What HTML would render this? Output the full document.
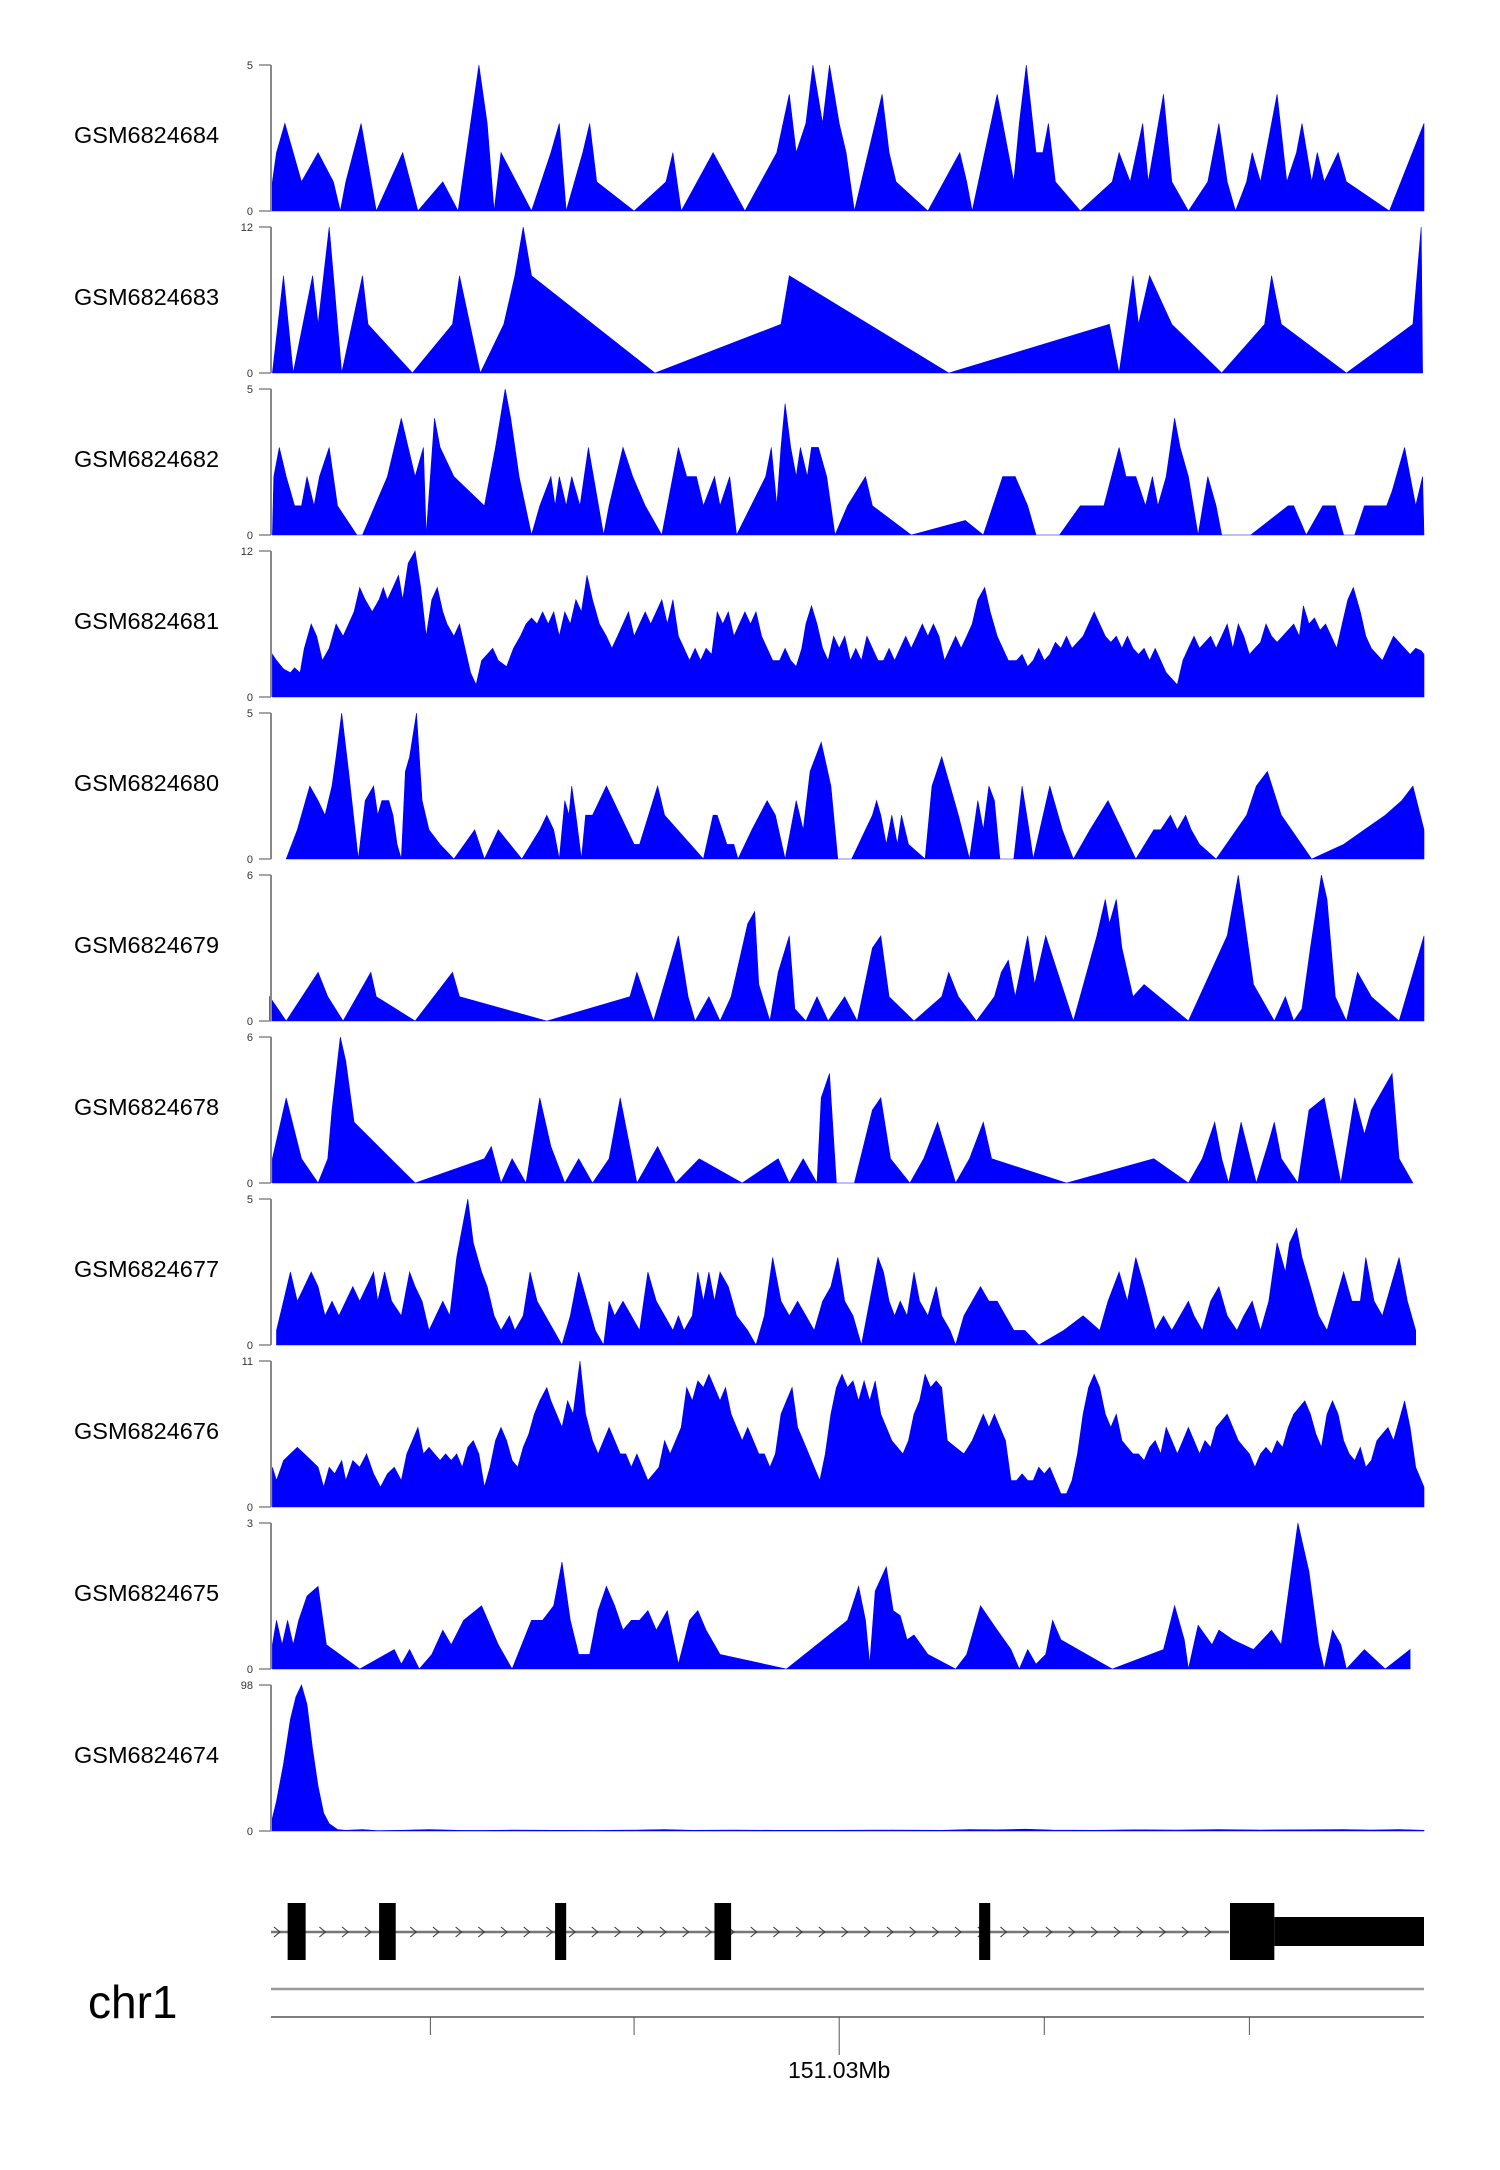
<!DOCTYPE html>
<html><head><meta charset="utf-8"><style>
html,body{margin:0;padding:0;background:#fff;}
svg{display:block;}
text{font-family:"Liberation Sans",Arial,sans-serif;}
</style></head><body>
<svg id="chart" width="1500" height="2170" viewBox="0 0 1500 2170" xmlns="http://www.w3.org/2000/svg">
<g id="tracks"></g>
<g id="gene"></g>
<g id="axis"></g>
</svg>
<script>
const NS="http://www.w3.org/2000/svg";
const sampleNames=["GSM6824684","GSM6824683","GSM6824682","GSM6824681","GSM6824680","GSM6824679","GSM6824678","GSM6824677","GSM6824676","GSM6824675","GSM6824674"];
const trackMax=[5,12,5,12,5,6,6,5,11,3,98];
const s1=[196,0,197,1,200,2,206,3,218,1,230,2,241,1,246,0,250,1,261,3,272,0,291,2,302,0,320,1,331,0,340,3,346,5,352,3,357,0,362,2,373,1,384,0,398,2,404,3,409,0,421,2,426,3,431,1,458,0,481,1,486,2,492,0,515,2,538,0,561,2,570,4,575,2,582,3,587,5,594,3,599,5,606,3,611,2,617,0,632,3,637,4,642,2,647,1,670,0,693,2,698,1,702,0,720,4,732,1,736,3,741,5,748,2,753,2,757,3,762,1,780,0,803,1,808,2,816,1,825,3,829,1,840,4,846,1,858,0,872,1,880,3,886,1,892,0,900,1,904,2,910,1,922,4,929,1,936,2,940,3,947,1,951,2,956,1,966,2,972,1,1003,0,1028,3];
const s2=[197,0,205,8,212,0,226,8,230,4,238,12,247,0,262,8,266,4,298,0,327,4,332,8,347,0,364,4,372,8,378,12,384,8,473,0,564,4,570,8,685,0,801,4,808,0,818,8,822,4,830,8,846,4,882,0,913,4,918,8,925,4,972,0,1020,4,1026,12,1027,0];
const s3=[197,0,198,2,202,3,207,2,213,1,218,1,222,2,227,1,231,2,238,3,244,1,258,0,262,0,280,2,290,4,295,3,300,2,306,3,308,0,314,4,318,3,328,2,350,1,358,3,365,5,369,4,375,2,384,0,390,1,398,2,401,1,404,2,409,1,413,2,419,1,425,3,436,0,440,1,450,3,457,2,466,1,478,0,486,2,490,3,496,2,503,2,508,1,516,2,520,1,527,2,532,0,553,2,557,3,561,1,564,3,567,4.5,571,3,575,2,578,3,583,2,586,3,591,3,597,2,603,0,612,1,625,2,630,1,658,0,697,0.5,710,0,724,2,733,2,742,1,748,0,765,0,780,1,787,1,797,1,808,3,813,2,820,2,827,1,832,2,836,1,842,2,848,4,852,3,858,2,865,0,872,2,878,1,882,0,903,0,930,1,934,1,943,0,955,1,964,1,970,0,978,0,985,1,995,1,1001,1,1005,1.5,1014,3,1022,1,1027,2,1028,0];
const s4=[197,3.5,200,3,205,2.3,210,2,213,2.4,217,2,220,4,225,6,229,5,233,3,238,4,243,6,248,5,252,6,256,7,260,9,264,8,269,7,274,8,277,9,280,8,284,9,288,10,291,8,295,11,300,12,304,9,308,5,312,8,316,9,320,7,323,6,328,5,332,6,336,4,340,2,344,1,348,3,352,3.5,356,4,360,3,366,2.5,371,4,376,5,380,6,384,6.5,388,6,392,7,396,6,400,7,404,5,408,7,412,6,416,8,420,7,424,10,428,8,433,6,438,5,442,4,446,5,450,6,454,7,458,5,462,6,466,7,470,6,474,7,478,8,482,6,486,8,490,5,494,4,498,3,502,4,506,3,510,4,514,3.5,518,7,522,6,526,7,530,5,534,6,538,7,542,6,546,7,550,5,554,4,558,3,563,3,567,4,571,3,575,2.5,579,4,582,6,586,7.5,590,6,594,4,598,3,602,5,606,4,610,5,614,3,618,4,622,3,626,5,630,4,634,3,638,3,642,4,646,3,650,4,654,5,658,4,662,5,666,6,670,5,674,6,678,5,682,3,686,4,690,5,694,4,698,5,702,6,706,8,711,9,715,7,720,5,724,4,728,3,734,3,738,3.5,742,2.5,746,3,750,4,754,3,758,3.5,762,4.5,766,4,770,5,774,4,778,4.5,782,5,786,6,790,7,794,6,798,5,802,4.5,806,5,810,4,814,5,818,4,822,3.5,826,4,830,3,834,4,838,3,842,2,846,1.5,850,1,854,3,858,4,862,5,866,4,870,4.5,874,5,878,4,882,5,886,6,890,4,894,6,898,5,902,3.5,906,4,910,4.5,914,6,918,5,922,4.5,926,5,930,5.5,934,6,938,5,941,7.5,945,6,949,6.5,953,5.5,957,6,961,5,965,4,969,6,973,8,977,9,982,7,986,5,990,4,994,3.5,998,3,1002,4,1006,5,1010,4.5,1014,4,1018,3.5,1022,4,1026,3.8,1028,3.5];
const s5=[207,0,215,1,224,2.5,230,2,235,1.5,240,2.5,243,3.5,247,5,252,3,259,0,264,2,270,2.5,273,1.5,276,2,281,2,284,1.5,287,0.5,290,0,293,3,296,3.5,301,5,305,2,310,1,318,0.5,328,0,343,1,350,0,360,1,377,0,390,1,395,1.5,400,1,404,0,408,2,411,1.5,413,2.5,416,1.5,420,0,423,1.5,428,1.5,438,2.5,458,0.5,462,0.5,475,2.5,480,1.5,508,0,515,1.5,518,1.5,525,0.5,530,0.5,533,0,543,1,554,2,560,1.5,567,0,575,2,580,1,585,3,593,4,600,2.5,605,0,615,0,625,1,630,1.5,633,2,636,1.5,640,0.5,644,1.5,648,0.5,651,1.5,656,0.5,668,0,673,2.5,680,3.5,686,2.5,692,1.5,700,0,706,2,710,1,714,2.5,718,2,722,0,732,0,738,2.5,743,1,746,0,758,2.5,767,1,775,0,787,1,800,2,820,0,833,1,838,1,845,1.5,850,1,856,1.5,860,1,866,0.5,878,0,900,1.5,907,2.5,915,3,925,1.5,947,0,970,0.5,985,1,1000,1.5,1012,2,1020,2.5,1028,1,1028,0];
const s6=[195,1,207,0,230,2,237,1,248,0,268,2,272,1,300,0,327,2,332,1,395,0,455,1,460,2,472,0,490,3.5,497,1,502,0,512,1,520,0,528,1,540,4,545,4.5,548,1.5,556,0,562,2,570,3.5,574,0.5,582,0,590,1,598,0,610,1,619,0,630,3,636,3.5,642,1,660,0,680,1,685,2,692,1,705,0,718,1,723,2,728,2.5,733,1,742,3.5,747,1.5,755,3.5,775,0,792,3.5,798,5,801,4,806,5,810,3,818,1,826,1.5,858,0,886,3.5,894,6,905,1.5,920,0,928,1,934,0,940,0.5,946,3,954,6,958,5,964,1,972,0,980,2,990,1,1010,0,1028,3.5,1028,0];
const s7=[197,1,207,3.5,218,1,230,0,237,1,240,3,246,6,250,5,256,2.5,300,0,350,1,355,1.5,362,0,370,1,380,0,390,3.5,398,1.5,408,0,418,1,428,0,440,1,448,3.5,460,0,470,1,475,1.5,488,0,505,1,536,0,562,1,570,0,580,1,590,0,593,3.5,599,4.5,604,0,617,0,630,3,636,3.5,643,1,657,0,667,1,677,2.5,690,0,700,1,710,2.5,716,1,770,0,833,1,858,0,868,1,877,2.5,882,1,887,0,896,2.5,907,0,915,1.5,920,2.5,925,1,937,0,945,3,956,3.5,968,0,978,3.5,985,2,990,3,995,3.5,1005,4.5,1010,1,1020,0];
const s8=[200,0.5,205,1.5,210,2.5,215,1.5,220,2,225,2.5,230,2,235,1,240,1.5,245,1,250,1.5,255,2,260,1.5,265,2,270,2.5,273,1.5,278,2.5,283,1.5,290,1,296,2.5,300,2,305,1.5,310,0.5,315,1,320,1.5,325,1,330,3,334,4,338,5,342,3.5,348,2.5,352,2,357,1,362,0.5,368,1,372,0.5,378,1,383,2.5,388,1.5,394,1,400,0.5,406,0,412,1,418,2.5,424,1.5,430,0.5,436,0,440,1.5,444,1,450,1.5,456,1,462,0.5,468,2.5,474,1.5,480,1,486,0.5,490,1,494,0.5,500,1,504,2.5,508,1.5,512,2.5,516,1.5,520,2.5,526,2,532,1,540,0.5,546,0,552,1,558,3,564,1.5,570,1,576,1.5,582,1,588,0.5,594,1.5,600,2,605,3,610,1.5,616,1,622,0,628,1.5,634,3,638,2.5,642,1.5,646,1,650,1.5,655,1,660,2.5,664,1.5,670,1,676,2,680,1,686,0.5,690,0,696,1,702,1.5,708,2,714,1.5,720,1.5,726,1,732,0.5,740,0.5,750,0,768,0.5,782,1,794,0.5,800,1.5,808,2.5,814,1.5,820,3,826,2,834,0.5,840,1,846,0.5,852,1,858,1.5,862,1,868,0.5,874,1.5,880,2,886,1,893,0.5,898,1,904,1.5,910,0.5,916,1.5,922,3.5,928,2.5,931,3.5,936,4,940,3,946,2,952,1,958,0.5,964,1.5,970,2.5,976,1.5,982,1.5,986,3,992,1.5,998,1,1004,2,1010,3,1016,1.5,1022,0.5];
const s9=[197,3,200,2,205,3.5,210,4,215,4.5,220,4,225,3.5,230,3,234,1.5,238,3,242,2.5,247,3.5,250,2,255,3.5,260,3,265,4,270,2.5,275,1.5,280,2.5,285,3,290,2,294,4,298,5,302,6,306,4,310,4.5,314,4,318,3.5,322,4,326,3.5,330,4,334,3,338,4.5,342,5,346,4,350,1.5,354,3,358,5,362,6,366,5,370,3.5,374,3,378,4.5,382,5.5,386,7,390,8,395,9,398,8,402,7,406,6,410,8,414,7,419,11,423,7,428,5,432,4,436,5,440,6,444,5,448,4,452,4,456,3,460,4,464,3,468,2,472,2.5,476,3,480,5,484,4,488,5,492,6,496,9,500,8,504,9.5,508,9,512,10,516,9,520,8,524,9,528,7,532,6,536,5,540,6,544,5,548,4,552,4,556,3,560,4,564,7,568,8,572,9,576,6,580,5,584,4,588,3,592,2,596,4,600,7,604,9,608,10,612,9,616,9.5,620,8,624,9.5,628,8,632,9.5,636,7,640,6,644,5,648,4.5,652,4,656,5,660,7,664,8,668,10,672,9,676,9.5,680,9,684,5,690,4.5,696,4,702,5,706,6,710,7,714,6,718,7,722,6,726,5,730,2,734,2,738,2.5,742,2,746,2,750,3,754,2.5,758,3,762,2,766,1,770,1,774,2,778,4,782,7,786,9,790,10,794,9,798,7,802,6,806,7,810,5,814,4.5,818,4,822,4,826,3.5,830,4.5,834,5,838,4,842,6,846,5,850,4,854,5,858,6,862,5,866,4,870,5,874,4.5,878,6,882,6.5,886,7,890,6,894,5,898,4.5,902,4,906,3,910,4,914,4.5,918,4,922,5,926,4.5,930,6,934,7,938,7.5,942,8,946,7,950,5.5,954,4.5,958,7,962,8,966,7,970,5,974,4,978,3.5,982,4.5,986,3,990,3.5,994,5,998,5.5,1002,6,1006,5,1010,6.5,1014,8,1018,6,1022,3,1028,1.5];
const s10=[197,0.5,200,1,204,0.5,208,1,212,0.5,216,1,222,1.5,230,1.7,236,0.5,260,0,285,0.4,290,0.1,296,0.4,303,0,312,0.3,320,0.8,326,0.5,335,1,348,1.3,360,0.5,370,0,384,1,392,1,400,1.3,406,2.2,412,1,418,0.3,426,0.3,432,1.2,438,1.7,444,1.3,450,0.8,456,1,462,1,468,1.2,474,0.8,482,1.2,490,0.1,498,1,504,1.2,510,0.8,516,0.5,520,0.3,568,0,612,1,620,1.7,625,1,628,0.1,632,1.6,640,2.1,645,1.2,650,1.1,655,0.6,660,0.7,670,0.3,690,0,698,0.3,708,1.3,720,0.8,730,0.4,736,0,742,0.4,748,0.1,755,0.3,760,1,766,0.6,803,0,840,0.4,848,1.3,855,0.6,858,0,865,0.9,875,0.5,880,0.8,890,0.6,905,0.4,918,0.8,925,0.5,937,3,945,2,952,0.5,956,0,962,0.8,968,0.5,972,0,985,0.4,1000,0,1018,0.4];
const s11=[196,5,200,20,205,45,210,75,214,90,218,98,222,85,226,55,230,30,234,12,238,5,244,1,250,0.5,262,1,272,0.3,290,0.5,310,1,330,0.5,350,0.4,370,0.6,400,0.5,430,0.4,460,0.6,480,1,500,0.5,530,0.6,560,0.5,600,0.5,640,0.6,680,0.5,700,1,720,0.8,740,1.2,760,0.6,790,0.5,820,0.8,850,0.6,880,1,910,0.7,940,0.8,970,1,990,0.7,1010,1,1028,0.5];
const series=[s1,s2,s3,s4,s5,s6,s7,s8,s9,s10,s11];
const geneExons=[[208,221],[274,286],[401,409],[516,528],[707,715],[888,920]];
const utrRange=[920,1028];
const axisTicks=[311,458,606,754,902];
const majorTick=606, majorLabel="151.03Mb";

const posDomain=[196,1028], pxRange=[271,1424];
function xS(p){return pxRange[0]+(p-posDomain[0])*(pxRange[1]-pxRange[0])/(posDomain[1]-posDomain[0]);}
function yS(i,v){const top=65+162*i, zero=211+162*i;return zero-(v/trackMax[i])*(zero-top);}
function mk(tag,attrs,parent){const e=document.createElementNS(NS,tag);for(const k in attrs)e.setAttribute(k,attrs[k]);parent.appendChild(e);return e;}

const tg=document.getElementById('tracks');
series.forEach((s,i)=>{
  const g=mk('g',{},tg);
  
  
  const zero=yS(i,0), top=yS(i,trackMax[i]);
  let pts=[[xS(s[0]),zero]];
  for(let k=0;k<s.length;k+=2)pts.push([xS(s[k]),yS(i,s[k+1])]);
  pts.push([xS(s[s.length-2]),zero]);
  const poly=mk('polygon',{points:pts.map(p=>p[0].toFixed(1)+','+p[1].toFixed(1)).join(' '),fill:'#0000ff',stroke:'#0000ff','stroke-width':'0.6'},g);
  
  
  const ax=mk('line',{x1:271,y1:top,x2:271,y2:zero,stroke:'#888','stroke-width':2},g);
  
  
  mk('line',{x1:259,y1:top,x2:271,y2:top,stroke:'#888','stroke-width':1.5},g);
  mk('line',{x1:259,y1:zero,x2:271,y2:zero,stroke:'#888','stroke-width':1.5},g);
  const t1=mk('text',{x:253,y:top+4,'font-size':11,'text-anchor':'end',fill:'#333'},g);t1.textContent=trackMax[i];
  
  
  const t0=mk('text',{x:253,y:zero+4,'font-size':11,'text-anchor':'end',fill:'#333'},g);t0.textContent='0';
  
  
  const lab=mk('text',{x:74,y:(top+zero)/2+5,'font-size':23.5,fill:'#000'},g);lab.textContent=sampleNames[i];
  
  
});

const gg=document.getElementById('gene');
mk('line',{x1:271,y1:1932,x2:1229,y2:1932,stroke:'#777','stroke-width':2.5},gg);
for(let x=277;x<1229;x+=22.7){mk('polyline',{points:`${x-3},1927 ${x+3},1932 ${x-3},1937`,fill:'none',stroke:'#333','stroke-width':1},gg);}
geneExons.forEach(e=>{
  const r=mk('rect',{x:xS(e[0]),y:1903,width:xS(e[1])-xS(e[0]),height:57,fill:'#000'},gg);
  
  
});
const u=mk('rect',{x:xS(utrRange[0]),y:1917,width:xS(utrRange[1])-xS(utrRange[0]),height:29,fill:'#000'},gg);



const ag=document.getElementById('axis');
mk('line',{x1:271,y1:1989,x2:1424,y2:1989,stroke:'#999','stroke-width':2.5},ag);
mk('line',{x1:271,y1:2017,x2:1424,y2:2017,stroke:'#555','stroke-width':1.5},ag);
axisTicks.forEach(p=>{mk('line',{x1:xS(p),y1:2017,x2:xS(p),y2:p===majorTick?2055:2035,stroke:'#555','stroke-width':1},ag);});
const ml=mk('text',{x:xS(majorTick),y:2078,'font-size':23,'text-anchor':'middle',fill:'#000'},ag);ml.textContent=majorLabel;


const ch=mk('text',{x:88,y:2018,'font-size':46,fill:'#000'},ag);ch.textContent='chr1';


</script>
</body></html>
